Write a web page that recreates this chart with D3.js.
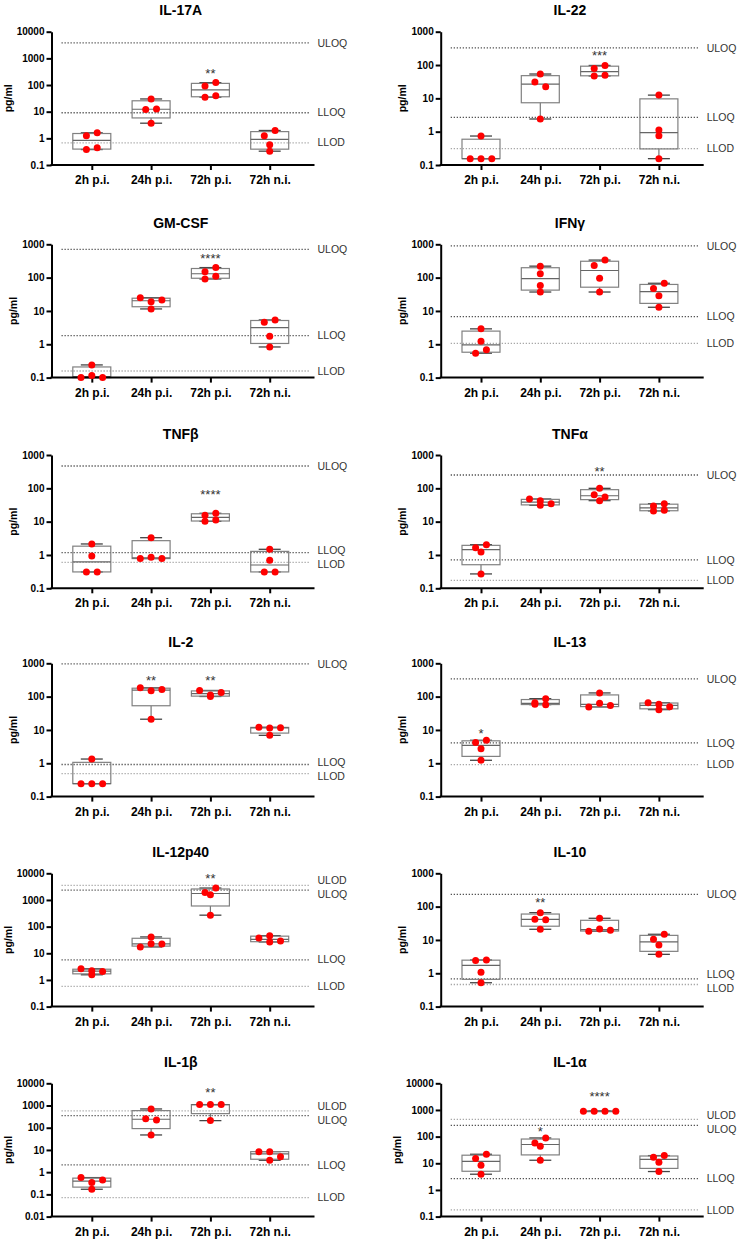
<!DOCTYPE html>
<html><head><meta charset="utf-8">
<script src="https://cdn.jsdelivr.net/npm/d3@7"></script>
<style>
html,body{margin:0;padding:0;background:#fff;}
svg{display:block;font-family:"Liberation Sans", Arial, sans-serif;}
</style></head><body>
<svg id="chart" width="737" height="1239"></svg>
<script>
// ---------- DATA ----------
const categories = ["2h p.i.", "24h p.i.", "72h p.i.", "72h n.i."];
const titles = ["IL-17A","IL-22","GM-CSF","IFNγ","TNFβ","TNFα","IL-2","IL-13","IL-12p40","IL-10","IL-1β","IL-1α"];

// replicate values (pg/ml) per category, in data-entry order
const il17a   = [[1.24,0.38,1.61,0.44],[12.2,30,3.7,12.5],[92,35,123,40],[1.24,0.58,0.33,1.97]];
const il22    = [[0.155,0.74,0.155,0.155],[30.8,53.7,2.4,22.3],[78,47,97,49],[12.5,1.12,0.75,0.155]];
const gmcsf   = [[0.1,0.24,0.115,0.1],[25,19,11.5,21.4],[151,91,200,110],[4.57,1.74,0.83,5.37]];
const ifng    = [[0.54,2.9,1.23,0.69],[221,130,57.8,37],[232,95.5,37,336],[46.8,28.8,12.9,67.7]];
const tnfb    = [[0.31,2.14,0.93,0.31],[0.78,3.3,0.85,0.78],[15.5,10.2,17.8,11.2],[0.31,1.48,0.69,0.31]];
const tnfa    = [[1.66,0.27,2.04,1.23],[47.9,30.9,42.7,34.7],[64.6,42.7,100,55],[21,29.5,34.7,22]];
const il2     = [[0.245,1.34,0.245,0.245],[184,150,21,164],[153,101,111,134],[12.0,11.5,6.9,11.7]];
const il13    = [[4.17,2.75,1.23,4.9],[58.9,66,87,57.5],[49,129,63,53.7],[66,40.7,59,50]];
const il12p40 = [[2.63,1.56,2.21,2.09],[17.3,41,23,22.4],[1924,269,2800,1570],[26.6,37.8,45.9,29]];
const il10    = [[2.4,1.07,0.52,2.5],[41.7,66,20.9,40.7],[18.2,44.7,21.4,19.5],[10.5,7.1,3.7,14.8]];
const il1b    = [[0.569,0.339,0.17,0.447],[257,700,47.3,224],[1100,1100,209,1100],[8.4,3.43,8.4,5.0]];
const il1a    = [[15,8.4,3.89,21.8],[57.7,13,43.4,89],[900,900,900,900],[16.8,4.9,19.4,11]];

// detection / quantification limits (pg/ml)
const il17aLimits   = [["ULOQ",3800],["LLOQ",9.1],["LLOD",0.68]];
const il22Limits    = [["ULOQ",328],["LLOQ",2.7],["LLOD",0.31]];
const gmcsfLimits   = [["ULOQ",708],["LLOQ",1.82],["LLOD",0.158]];
const ifngLimits    = [["ULOQ",891],["LLOQ",6.8],["LLOD",1.07]];
const tnfbLimits    = [["ULOQ",468],["LLOQ",1.17],["LLOD",0.6]];
const tnfaLimits    = [["ULOQ",251],["LLOQ",0.71],["LLOD",0.174]];
const il2Limits     = [["ULOQ",955],["LLOQ",0.92],["LLOD",0.49]];
const il13Limits    = [["ULOQ",339],["LLOQ",4.07],["LLOD",0.91]];
const il12p40Limits = [["ULOD",3530],["ULOQ",2355],["LLOQ",5.7],["LLOD",0.57]];
const il10Limits    = [["ULOQ",234],["LLOQ",0.68],["LLOD",0.46]];
const il1bLimits    = [["ULOD",569],["ULOQ",351],["LLOQ",2.11],["LLOD",0.0716]];
const il1aLimits    = [["ULOD",447],["ULOQ",266],["LLOQ",2.66],["LLOD",0.178]];

// significance marks: [category, mark, level in pg/ml where the mark sits]
const il17aStars = [["72h p.i.","**",360]];
const il22Stars = [["72h p.i.","***",232]];
const gmcsfStars = [["72h p.i.","****",446]];
const ifngStars = [];
const tnfbStars = [["72h p.i.","****",79]];
const tnfaStars = [["72h p.i.","**",398]];
const il2Stars = [["24h p.i.","**",380],["72h p.i.","**",380]];
const il13Stars = [["2h p.i.","*",9.6]];
const il12p40Stars = [["72h p.i.","**",8100]];
const il10Stars = [["24h p.i.","**",163]];
const il1bStars = [["72h p.i.","**",5370]];
const il1aStars = [["24h p.i.","*",206],["72h p.i.","****",3970]];

// y-axis tick values per panel
const ticks5 = [0.1,1,10,100,1000,10000];
const ticks4 = [0.1,1,10,100,1000];
const ticks6 = [0.01,0.1,1,10,100,1000,10000];
const panelTicks = [ticks5,ticks4,ticks4,ticks4,ticks4,ticks4,ticks4,ticks4,ticks5,ticks4,ticks6,ticks5];

const panelValues = [il17a,il22,gmcsf,ifng,tnfb,tnfa,il2,il13,il12p40,il10,il1b,il1a];
const panelLimits = [il17aLimits,il22Limits,gmcsfLimits,ifngLimits,tnfbLimits,tnfaLimits,il2Limits,il13Limits,il12p40Limits,il10Limits,il1bLimits,il1aLimits];
const panelStars = [il17aStars,il22Stars,gmcsfStars,ifngStars,tnfbStars,tnfaStars,il2Stars,il13Stars,il12p40Stars,il10Stars,il1bStars,il1aStars];

// ---------- LAYOUT ----------
const rowTops = [31.7, 244.3, 455, 663.3, 873.3, 1083.3];
const colAxisX = [51.5, 440.7];
const plotH = 133.3;
const catOffset = 40.3, catStep = 59.3, axisLen = 262;

const svg = d3.select("#chart");
svg.append("rect").attr("width",737).attr("height",1239).attr("fill","#fff");

function quart(s, p){
  const n = s.length, h = (n+1)*p;
  if (h <= 1) return s[0];
  if (h >= n) return s[n-1];
  const lo = Math.floor(h);
  return s[lo-1] + (h-lo)*(s[lo]-s[lo-1]);
}

titles.forEach((title, i) => {
  const col = i % 2, row = Math.floor(i/2);
  const ax = colAxisX[col], top = rowTops[row], bot = top + plotH;
  const tks = panelTicks[i];
  const y = d3.scaleLog().domain([tks[0], tks[tks.length-1]]).range([bot, top]);
  const x = d3.scalePoint().domain(categories).range([ax+catOffset, ax+catOffset+3*catStep]);
  const g = svg.append("g");

  // title
  g.append("text").attr("x", ax+catOffset+1.5*catStep).attr("y", top-16.5)
    .attr("text-anchor","middle").attr("font-weight","bold").attr("font-size",14).attr("fill","#000")
    .text(title);

  // limit lines
  const lims = panelLimits[i].map(([name,v]) => ({name, v, ly: y(v), lab: y(v)}));
  lims.forEach(l => {
    const isLOD = l.name.endsWith("LOD");
    g.append("line").attr("x1", ax+10).attr("x2", ax+axisLen-4)
      .attr("y1", l.ly).attr("y2", l.ly)
      .attr("stroke", isLOD ? "#a8a8a8" : "#555").attr("stroke-width",1.3)
      .attr("stroke-dasharray","1.3,1.7");
  });
  const sortedL = lims.slice().sort((a,b)=>a.lab-b.lab);
  for (let pass=0; pass<5; pass++){
    for (let k=1;k<sortedL.length;k++){
      const a = sortedL[k-1], b = sortedL[k];
      if (b.lab - a.lab < 14){
        const m = (a.lab+b.lab)/2; a.lab = m-7; b.lab = m+7;
      }
    }
  }
  lims.forEach(l => {
    g.append("text").attr("x", ax+266).attr("y", l.lab).attr("dy","0.35em")
      .attr("font-size",10.5).attr("fill","#333").text(l.name);
  });

  // boxes
  panelValues[i].forEach((vals, ci) => {
    const cx = x(categories[ci]);
    const s = vals.slice().sort((a,b)=>a-b);
    const q1 = quart(s,0.25), med = quart(s,0.5), q3 = quart(s,0.75);
    const mn = s[0], mx = s[s.length-1];
    const bg = g.append("g");
    bg.append("line").attr("x1",cx).attr("x2",cx).attr("y1",y(mx)).attr("y2",y(q3)).attr("stroke","#777").attr("stroke-width",1.2);
    bg.append("line").attr("x1",cx).attr("x2",cx).attr("y1",y(q1)).attr("y2",y(mn)).attr("stroke","#777").attr("stroke-width",1.2);
    bg.append("line").attr("x1",cx-11).attr("x2",cx+11).attr("y1",y(mx)).attr("y2",y(mx)).attr("stroke","#444").attr("stroke-width",1.3);
    bg.append("line").attr("x1",cx-11).attr("x2",cx+11).attr("y1",y(mn)).attr("y2",y(mn)).attr("stroke","#444").attr("stroke-width",1.3);
    bg.append("rect").attr("x",cx-19).attr("width",38).attr("y",y(q3)).attr("height",Math.max(0.5,y(q1)-y(q3)))
      .attr("fill","none").attr("stroke","#808080").attr("stroke-width",1.2);
    bg.append("line").attr("x1",cx-19).attr("x2",cx+19).attr("y1",y(med)).attr("y2",y(med)).attr("stroke","#666").attr("stroke-width",1.2);
  });

  // axes
  const yAxis = g.append("g").attr("transform",`translate(${ax},0)`)
    .call(d3.axisLeft(y).tickValues(tks).tickFormat(d3.format("~g")).tickSize(5).tickSizeOuter(0).tickPadding(2));
  yAxis.select(".domain").attr("stroke","#000").attr("stroke-width",2);
  yAxis.selectAll(".tick line").attr("stroke","#000").attr("stroke-width",2);
  yAxis.selectAll(".tick text").attr("font-size",10).attr("font-weight","bold").attr("fill","#000")
    .attr("font-family","'Liberation Sans', Arial, sans-serif");
  const bb = yAxis.node().getBBox();
  g.append("text").attr("transform",`translate(${ax+bb.x-5},${(top+bot)/2}) rotate(-90)`)
    .attr("text-anchor","middle").attr("font-size",10.5).attr("font-weight","bold").attr("fill","#000").text("pg/ml");

  const xAxis = g.append("g").attr("transform",`translate(0,${bot})`)
    .call(d3.axisBottom(x).tickSize(5).tickPadding(5.5));
  xAxis.select(".domain").remove();
  xAxis.selectAll(".tick line").attr("stroke","#000").attr("stroke-width",2);
  xAxis.selectAll(".tick text").attr("font-size",12).attr("font-weight","bold").attr("fill","#000")
    .attr("font-family","'Liberation Sans', Arial, sans-serif");
  g.append("line").attr("x1",ax-1).attr("x2",ax+axisLen+1).attr("y1",bot).attr("y2",bot)
    .attr("stroke","#000").attr("stroke-width",2);

  // points with horizontal spreading of overlapping points
  panelValues[i].forEach((vals, ci) => {
    const cx = x(categories[ci]);
    const pts = vals.map((v,k)=>({v,k,py:y(v)})).sort((a,b)=>a.py-b.py);
    const clusters = [];
    pts.forEach(p => {
      const c = clusters[clusters.length-1];
      if (c && p.py - c[0].py < 5.5) c.push(p); else clusters.push([p]);
    });
    clusters.forEach(c => {
      c.sort((a,b)=>a.k-b.k);
      c.forEach((p,j) => {
        g.append("circle").attr("cx", cx + (j-(c.length-1)/2)*10.8).attr("cy", p.py)
          .attr("r",3.5).attr("fill","#ff0000");
      });
    });
  });

  // stars
  panelStars[i].forEach(([cat, txt, lvl]) => {
    g.append("text").attr("x", x(cat)).attr("y", y(lvl) + 7.4)
      .attr("text-anchor","middle").attr("font-size",13).attr("fill","#333").text(txt);
  });
});
</script>
</body></html>
